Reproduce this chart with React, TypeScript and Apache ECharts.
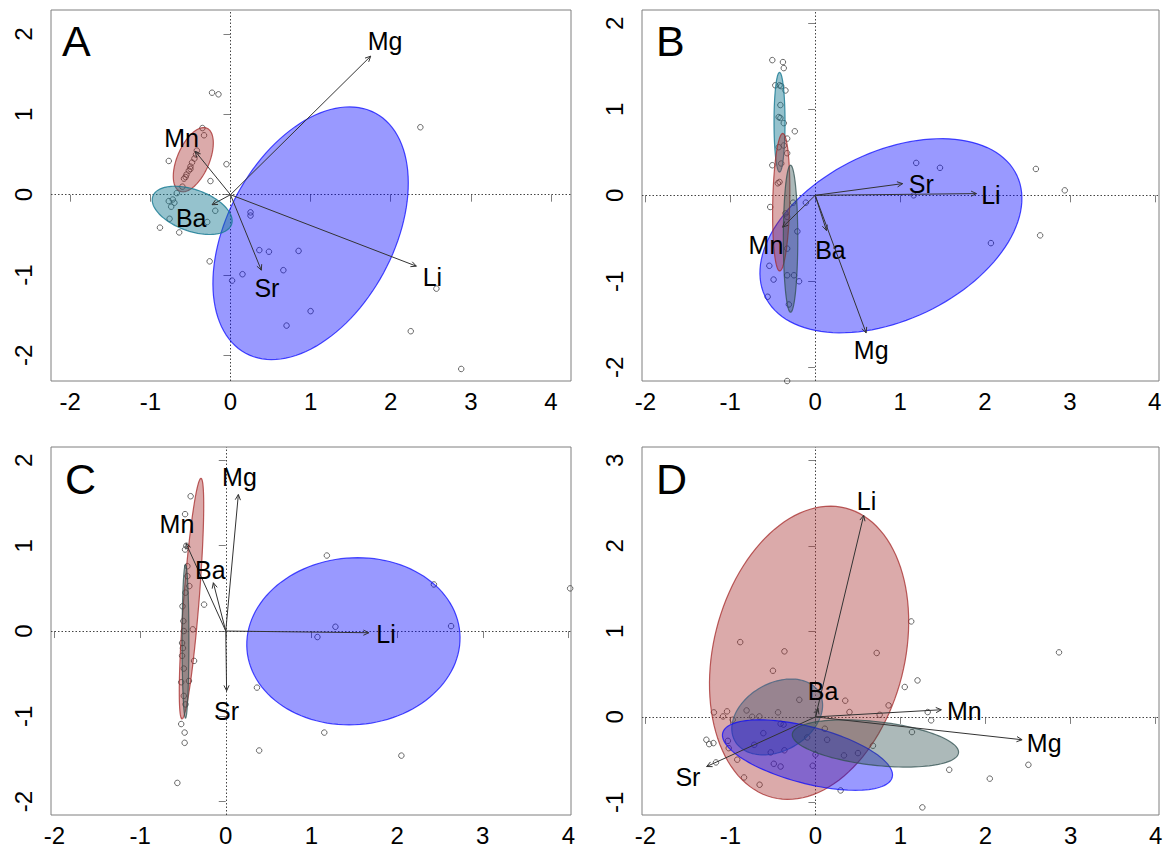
import React, { useEffect, useRef } from "react";
import * as echarts from "echarts";

// ---------- tick labels ----------
const xTickValues = [-2, -1, 0, 1, 2, 3, 4];
const yTickValuesABC = [-2, -1, 0, 1, 2];
const yTickValuesD = [-1, 0, 1, 2, 3];
const panelLetters = ["A", "B", "C", "D"];

// axis extents per panel
const xRanges = [[-2.24, 4.25], [-2.04, 4.05], [-2.04, 4.03], [-2.04, 4.04]];
const yRanges = [[-2.32, 2.3], [-2.16, 2.156], [-2.156, 2.157], [-1.147, 3.157]];

// ---------- group colours (ellipses) ----------
const groupFill = [
  "rgba(0,0,255,0.4)",
  "rgba(165,42,42,0.4)",
  "rgba(20,120,145,0.45)",
  "rgba(47,79,79,0.4)",
  "rgba(60,80,110,0.42)",
];
const groupStroke = [
  "rgba(0,0,255,0.7)",
  "rgba(165,42,42,0.75)",
  "rgba(20,120,145,0.8)",
  "rgba(47,79,79,0.75)",
  "rgba(70,100,130,0.8)",
];

// ---------- Panel A ----------
const pointsA = [
  [-0.23, 1.27], [-0.15, 1.25], [2.37, 0.84], [-0.77, 0.42], [-0.05, 0.38], [-0.25, 0.17],
  [-0.35, 0.83], [-0.33, 0.74], [-0.6, 0.1], [-0.58, 0.2], [-0.55, 0.25], [-0.52, 0.3],
  [-0.5, 0.35], [-0.48, 0.4], [-0.45, 0.45], [-0.43, 0.5], [-0.42, 0.55], [-0.56, 0.22],
  [-0.5, 0.32], [-0.77, -0.08], [-0.74, -0.15], [-0.72, -0.06], [-0.76, -0.3], [-0.67, 0.02],
  [-0.7, -0.1], [-0.88, -0.41], [-0.64, -0.47], [-0.19, -0.2], [-0.29, -0.34], [0.25, -0.22],
  [0.25, -0.26], [0.36, -0.69], [0.48, -0.71], [0.85, -0.7], [0.66, -0.94], [0.15, -0.99],
  [0.02, -1.07], [-0.26, -0.83], [1.0, -1.45], [0.7, -1.63], [2.57, -1.17], [2.25, -1.7],
  [2.88, -2.17],
];
const arrowNamesA = ["Mg", "Mn", "Ba", "Sr", "Li"];
const arrowTipsA = [[1.75, 1.725], [-0.44, 0.54], [-0.23, -0.125], [0.385, -0.94], [2.32, -0.89]];
const arrowLabelsA = [[1.93, 1.91], [-0.61, 0.71], [-0.49, -0.29], [0.455, -1.16], [2.52, -1.03]];
// [cx, cy, semi-major, semi-minor, angle(deg), group]
const ellipsesA = [
  [1.0, -0.48, 1.7, 1.036, 61.5, 0],
  [-0.464, 0.436, 0.427, 0.2, 66.6, 1],
  [-0.478, -0.195, 0.5215, 0.259, -19.7, 2],
];

// ---------- Panel B ----------
const pointsB = [
  [-0.505, 1.573], [-0.38, 1.55], [-0.37, 1.48], [-0.47, 1.28], [-0.42, 1.28], [-0.4, 1.27],
  [-0.35, 1.22], [-0.41, 1.05], [-0.43, 0.91], [-0.41, 0.9], [-0.37, 0.84], [-0.24, 0.745],
  [-0.33, 0.66], [-0.33, 0.49], [-0.43, 0.56], [-0.37, 0.58], [-0.505, 0.35], [-0.4, 0.37],
  [-0.44, 0.14], [-0.42, 0.155], [-0.53, -0.136], [-0.26, -0.085], [-0.11, -0.085],
  [-0.35, -0.21], [-0.33, -0.25], [-0.21, -0.42], [-0.33, -0.62], [-0.54, -0.82],
  [-0.49, -0.98], [-0.33, -0.93], [-0.25, -0.93], [-0.19, -1.0], [-0.56, -1.18],
  [-0.31, -1.27], [-0.33, -2.16], [1.19, 0.377], [1.47, 0.32], [1.16, 0.0], [2.6, 0.307],
  [2.94, 0.058], [2.65, -0.466], [2.07, -0.556],
];
const arrowNamesB = ["Sr", "Li", "Mn", "Ba", "Mg"];
const arrowTipsB = [[1.03, 0.136], [1.9, 0.02], [-0.384, -0.37], [0.133, -0.41], [0.6, -1.6]];
const arrowLabelsB = [[1.25, 0.136], [2.07, 0.0], [-0.58, -0.58], [0.18, -0.64], [0.66, -1.8]];
const ellipsesB = [
  [0.892, -0.47, 1.642, 0.98, 25.2, 0],
  [-0.42, 0.85, 0.58, 0.065, 90, 2],
  [-0.4, -0.08, 0.8, 0.1, 88.7, 1],
  [-0.29, -0.505, 0.855, 0.085, 90, 3],
];

// ---------- Panel C ----------
const pointsC = [
  [1.18, 0.885], [2.43, 0.546], [4.02, 0.5], [1.28, 0.05], [1.07, -0.07], [2.63, 0.058],
  [0.364, -0.663], [1.15, -1.19], [0.39, -1.4], [2.05, -1.46], [-0.565, -1.78],
  [-0.41, 1.58], [-0.475, 1.37], [-0.475, 0.955], [-0.46, 1.0], [-0.448, 0.643],
  [-0.425, 0.527], [-0.448, 0.76], [-0.253, 0.31], [-0.505, 0.29], [-0.495, 0.117],
  [-0.385, 0.02], [-0.51, -0.14], [-0.37, -0.35], [-0.51, -0.29], [-0.49, -0.44],
  [-0.52, -0.6], [-0.43, -0.585], [-0.49, -0.76], [-0.47, -0.86], [-0.52, -1.09],
  [-0.48, -1.19], [-0.48, -1.31], [-0.47, 0.45], [-0.49, 0.0], [-0.5, -0.2],
];
const arrowNamesC = ["Mg", "Mn", "Ba", "Sr", "Li"];
const arrowTipsC = [[0.147, 1.6], [-0.463, 1.026], [-0.145, 0.566], [0.01, -0.7], [1.67, -0.02]];
const arrowLabelsC = [[0.16, 1.8], [-0.57, 1.25], [-0.18, 0.72], [0.01, -0.94], [1.87, -0.04]];
const ellipsesC = [
  [-0.4, 0.38, 1.414, 0.09, 85.5, 1],
  [-0.47, -0.12, 0.9, 0.04, 90, 3],
  [1.49, -0.12, 1.2466, 0.9777, 4.7, 0],
];

// ---------- Panel D ----------
const pointsD = [
  [1.126, 1.117], [-0.885, 0.875], [-0.365, 0.767], [0.72, 0.748], [2.864, 0.755],
  [-0.5, 0.54], [1.2, 0.427], [1.05, 0.35], [-0.19, 0.2], [0.35, 0.19], [0.86, 0.135],
  [-1.195, 0.053], [-1.04, 0.065], [-1.087, 0.006], [-0.81, 0.076], [-0.745, 0.002],
  [-0.66, 0.006], [-0.44, 0.053], [0.4, 0.057], [0.755, 0.025], [1.32, 0.057],
  [1.36, -0.04], [-0.973, -0.033], [-0.41, -0.08], [-0.375, -0.09], [-0.613, -0.19],
  [-0.097, -0.24], [0.137, -0.267], [0.11, -0.138], [1.135, -0.177], [-1.283, -0.267],
  [-1.25, -0.318], [-1.2, -0.306], [-1.03, -0.28], [-1.02, -0.365], [-0.72, -0.326],
  [-0.526, -0.415], [-0.365, -0.39], [0.676, -0.337], [0.335, -0.45], [0.5, -0.423],
  [0.0, -0.44], [-0.92, -0.5], [-1.17, -0.532], [-0.49, -0.548], [-0.41, -0.58],
  [-0.032, -0.571], [-0.84, -0.708], [-0.657, -0.793], [0.296, -0.86], [1.573, -0.618],
  [2.05, -0.722], [2.504, -0.56], [1.257, -1.058],
];
const arrowNamesD = ["Li", "Ba", "Mn", "Mg", "Sr"];
const arrowTipsD = [[0.567, 2.357], [0.03, 0.1], [1.48, 0.084], [2.43, -0.267], [-1.28, -0.58]];
const arrowLabelsD = [[0.6, 2.53], [0.09, 0.3], [1.75, 0.07], [2.69, -0.306], [-1.5, -0.7]];
const ellipsesD = [
  [-0.075, 0.75, 1.746, 1.124, 75.7, 1],
  [-0.45, 0.0, 0.571, 0.395, 29.3, 4],
  [-0.094, -0.446, 1.03, 0.331, -14.6, 0],
  [0.705, -0.31, 0.9836, 0.2555, -6.4, 3],
];

const FONT = "'Liberation Sans', Arial, Helvetica, sans-serif";

const panels = [
  { points: pointsA, names: arrowNamesA, tips: arrowTipsA, labels: arrowLabelsA, ellipses: ellipsesA, yTicks: yTickValuesABC },
  { points: pointsB, names: arrowNamesB, tips: arrowTipsB, labels: arrowLabelsB, ellipses: ellipsesB, yTicks: yTickValuesABC },
  { points: pointsC, names: arrowNamesC, tips: arrowTipsC, labels: arrowLabelsC, ellipses: ellipsesC, yTicks: yTickValuesABC },
  { points: pointsD, names: arrowNamesD, tips: arrowTipsD, labels: arrowLabelsD, ellipses: ellipsesD, yTicks: yTickValuesD },
];

// layout (pixels)
const gridBoxes = [
  { left: 51, top: 10, width: 520, height: 371 },
  { left: 642, top: 10, width: 517, height: 371 },
  { left: 51, top: 447, width: 520, height: 368 },
  { left: 642, top: 447, width: 517, height: 368 },
];
const letterPos = [
  { left: 62, top: 19 },
  { left: 656, top: 19 },
  { left: 65, top: 457 },
  { left: 656, top: 457 },
];

function buildOption() {
  const grid = gridBoxes.map((g) => ({
    ...g,
    show: true,
    borderColor: "#7f7f7f",
    borderWidth: 1,
    backgroundColor: "transparent",
    containLabel: false,
    outerBoundsMode: "none",
  }));
  const xAxis = panels.map((p, i) => ({
    gridIndex: i,
    type: "value",
    min: xRanges[i][0],
    max: xRanges[i][1],
    axisLine: { show: false },
    splitLine: { show: false },
    axisTick: { show: true, customValues: xTickValues, length: 7, lineStyle: { color: "#7f7f7f", width: 1 } },
    axisLabel: { customValues: xTickValues, fontSize: 24, color: "#000", fontFamily: FONT, margin: 8 },
  }));
  const yAxis = panels.map((p, i) => ({
    gridIndex: i,
    type: "value",
    min: yRanges[i][0],
    max: yRanges[i][1],
    axisLine: { show: false },
    splitLine: { show: false },
    axisTick: { show: true, customValues: p.yTicks, length: 7, lineStyle: { color: "#7f7f7f", width: 1 } },
    axisLabel: { customValues: p.yTicks, fontSize: 24, color: "#000", fontFamily: FONT, margin: 16, rotate: 90 },
  }));

  const series: any[] = [];
  panels.forEach((p, i) => {
    // points + dotted zero lines
    series.push({
      type: "scatter",
      xAxisIndex: i,
      yAxisIndex: i,
      data: p.points,
      symbol: "circle",
      symbolSize: 5.5,
      itemStyle: { color: "rgba(0,0,0,0)", borderColor: "#444", borderWidth: 1 },
      z: 2,
      markLine: {
        silent: true,
        symbol: "none",
        label: { show: false },
        lineStyle: { color: "#444", type: [1.5, 2], width: 1 },
        data: [{ xAxis: 0 }, { yAxis: 0 }],
        z: 1,
      },
    });
    // ellipses
    series.push({
      type: "custom",
      xAxisIndex: i,
      yAxisIndex: i,
      data: p.ellipses,
      z: 3,
      renderItem: (params: any, api: any) => {
        const cx = api.value(0), cy = api.value(1), a = api.value(2), b = api.value(3);
        const th = (api.value(4) * Math.PI) / 180;
        const g = api.value(5);
        const pts: number[][] = [];
        const n = 120;
        for (let k = 0; k < n; k++) {
          const t = (k / n) * Math.PI * 2;
          const dx = a * Math.cos(t) * Math.cos(th) - b * Math.sin(t) * Math.sin(th);
          const dy = a * Math.cos(t) * Math.sin(th) + b * Math.sin(t) * Math.cos(th);
          pts.push(api.coord([cx + dx, cy + dy]));
        }
        return {
          type: "polygon",
          shape: { points: pts },
          style: { fill: groupFill[g], stroke: groupStroke[g], lineWidth: 1.2 },
        };
      },
    });
    // arrows + labels
    series.push({
      type: "custom",
      xAxisIndex: i,
      yAxisIndex: i,
      data: p.tips.map((t, k) => [t[0], t[1], p.labels[k][0], p.labels[k][1]]),
      z: 4,
      renderItem: (params: any, api: any) => {
        const o = api.coord([0, 0]);
        const tip = api.coord([api.value(0), api.value(1)]);
        const lab = api.coord([api.value(2), api.value(3)]);
        const ang = Math.atan2(tip[1] - o[1], tip[0] - o[0]);
        const L = 6;
        const h1 = [tip[0] - L * Math.cos(ang - Math.PI / 7), tip[1] - L * Math.sin(ang - Math.PI / 7)];
        const h2 = [tip[0] - L * Math.cos(ang + Math.PI / 7), tip[1] - L * Math.sin(ang + Math.PI / 7)];
        return {
          type: "group",
          children: [
            { type: "line", shape: { x1: o[0], y1: o[1], x2: tip[0], y2: tip[1] }, style: { stroke: "#333", lineWidth: 1 } },
            { type: "polyline", shape: { points: [h1, tip, h2] }, style: { stroke: "#333", lineWidth: 1, fill: null } },
            {
              type: "text",
              x: lab[0],
              y: lab[1],
              style: {
                text: p.names[params.dataIndex],
                fontSize: 25,
                fontFamily: FONT,
                fill: "#000",
                align: "center",
                verticalAlign: "middle",
              },
            },
          ],
        };
      },
    });
  });

  const graphic = panelLetters.map((l, i) => ({
    type: "text",
    left: letterPos[i].left,
    top: letterPos[i].top,
    z: 10,
    style: { text: l, fontSize: 43, fontFamily: FONT, fill: "#000" },
  }));

  return {
    animation: false,
    backgroundColor: "#fff",
    grid,
    xAxis,
    yAxis,
    series,
    graphic,
  };
}

export default function App() {
  const ref = useRef<HTMLDivElement>(null);
  useEffect(() => {
    if (!ref.current) return;
    const chart = echarts.init(ref.current, undefined, { renderer: "svg" });
    chart.setOption(buildOption() as any);
    return () => chart.dispose();
  }, []);
  return (
    <div
      ref={ref}
      style={{ position: "absolute", left: 0, top: 0, width: 1168, height: 851, background: "#fff" }}
    />
  );
}
